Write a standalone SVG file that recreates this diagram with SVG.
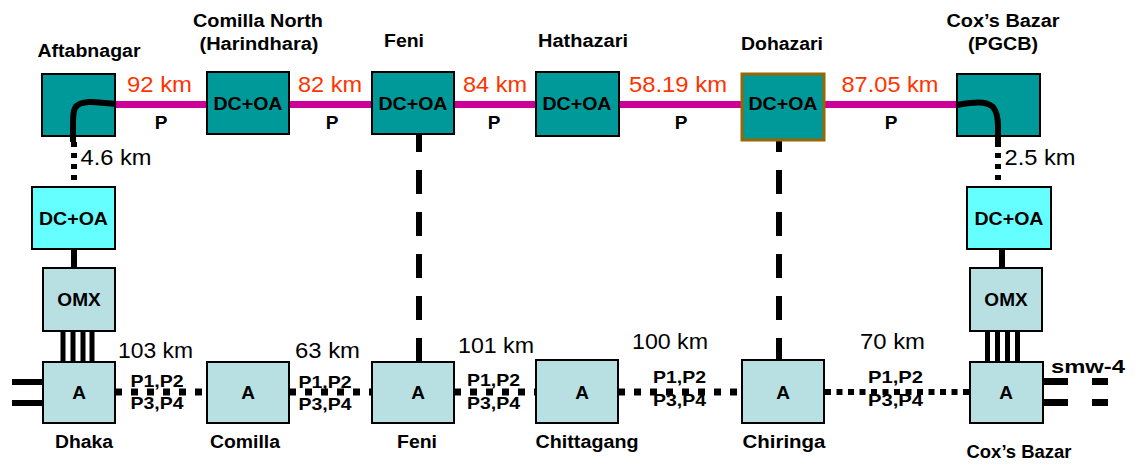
<svg xmlns="http://www.w3.org/2000/svg" width="1143" height="464" viewBox="0 0 1143 464">
<style>
text{font-family:"Liberation Sans",Arial,sans-serif;text-anchor:middle}
.b{font-weight:bold;font-size:18px;fill:#000}
.bx{font-weight:bold;font-size:19px;fill:#000}
.pp{font-weight:bold;font-size:17px;fill:#000}
.d{font-size:22px;fill:#FF3300}
.k{font-size:22px;fill:#000}
.teal{fill:#009999;stroke:#000;stroke-width:2}
.cyan{fill:#66FFFF;stroke:#000;stroke-width:2}
.lb{fill:#B8DFE2;stroke:#000;stroke-width:2}
.mag{stroke:#CC0099;stroke-width:7;fill:none}
.thick{stroke:#000;stroke-width:6;fill:none}
.dot{stroke:#000;stroke-width:7;fill:none;stroke-dasharray:7 9}
.vdot{stroke:#000;stroke-width:6;fill:none;stroke-dasharray:5 6}
.dash{stroke:#000;stroke-width:6;fill:none;stroke-dasharray:24 18}
</style>
<g id="connectors">
<line class="mag" x1="115" y1="104.5" x2="207" y2="104.5"/>
<line class="mag" x1="289" y1="104.5" x2="372" y2="104.5"/>
<line class="mag" x1="454" y1="104.5" x2="536" y2="104.5"/>
<line class="mag" x1="619" y1="104.5" x2="742" y2="104.5"/>
<line class="mag" x1="824" y1="104.5" x2="957" y2="104.5"/>
<line class="vdot" x1="74" y1="142" x2="74" y2="187"/>
<line class="vdot" x1="998" y1="142" x2="998" y2="187"/>
<line class="thick" x1="74" y1="249" x2="74" y2="268"/>
<line class="thick" x1="1002" y1="249" x2="1002" y2="268"/>
<g stroke="#000" stroke-width="5">
<line x1="63" y1="331" x2="63" y2="362"/><line x1="73" y1="331" x2="73" y2="362"/><line x1="83" y1="331" x2="83" y2="362"/><line x1="92" y1="331" x2="92" y2="362"/>
<line x1="987.5" y1="331" x2="987.5" y2="362"/><line x1="997.5" y1="331" x2="997.5" y2="362"/><line x1="1007.5" y1="331" x2="1007.5" y2="362"/><line x1="1017.5" y1="331" x2="1017.5" y2="362"/>
</g>
<line class="dash" x1="419" y1="128" x2="419" y2="362"/>
<line class="dash" x1="779" y1="128" x2="779" y2="362"/>
<line class="dot" x1="115" y1="392" x2="207" y2="392"/>
<line class="dot" x1="289" y1="392" x2="372" y2="392"/>
<line class="dot" x1="454" y1="392" x2="536" y2="392"/>
<line class="dot" x1="618" y1="392" x2="742" y2="392"/>
<line stroke="#000" stroke-width="6" stroke-dasharray="6 5.5" x1="825" y1="392" x2="970" y2="392"/>
<line class="thick" x1="12" y1="382" x2="43" y2="382"/>
<line class="thick" x1="12" y1="403" x2="43" y2="403"/>
<line stroke="#000" stroke-width="7" x1="1043" y1="381.5" x2="1068" y2="381.5"/>
<line stroke="#000" stroke-width="7" x1="1043" y1="402.5" x2="1068" y2="402.5"/>
<line stroke="#000" stroke-width="7" x1="1092" y1="381.5" x2="1108" y2="381.5"/>
<line stroke="#000" stroke-width="7" x1="1092" y1="402.5" x2="1108" y2="402.5"/>
</g>
<g id="aftabnagar">
<rect class="teal" x="42" y="74" width="73" height="62"/>
<path class="thick" stroke-width="7" d="M115,104 C98,102 80,99 75,108 C73,112 73,118 73,124 L73,142"/>
<text class="b" x="89" y="57" textLength="103" lengthAdjust="spacingAndGlyphs">Aftabnagar</text>
</g>
<g id="comilla-north">
<rect class="teal" x="207" y="72" width="82" height="62"/>
<text class="bx" x="248" y="110" textLength="69" lengthAdjust="spacingAndGlyphs">DC+OA</text>
<text class="b" x="258" y="27" textLength="130" lengthAdjust="spacingAndGlyphs">Comilla North</text>
<text class="b" x="259" y="50" textLength="119" lengthAdjust="spacingAndGlyphs">(Harindhara)</text>
</g>
<g id="feni-top">
<rect class="teal" x="372" y="72" width="82" height="62"/>
<text class="bx" x="413" y="110" textLength="69" lengthAdjust="spacingAndGlyphs">DC+OA</text>
<text class="b" x="404" y="47" textLength="40" lengthAdjust="spacingAndGlyphs">Feni</text>
</g>
<g id="hathazari">
<rect class="teal" x="536" y="72" width="83" height="64"/>
<text class="bx" x="577" y="110" textLength="69" lengthAdjust="spacingAndGlyphs">DC+OA</text>
<text class="b" x="583" y="47" textLength="90" lengthAdjust="spacingAndGlyphs">Hathazari</text>
</g>
<g id="dohazari">
<rect x="742" y="74" width="82" height="66" fill="#009999" stroke="#996600" stroke-width="3"/>
<text class="bx" x="783" y="110" textLength="69" lengthAdjust="spacingAndGlyphs">DC+OA</text>
<text class="b" x="782" y="50" textLength="82" lengthAdjust="spacingAndGlyphs">Dohazari</text>
</g>
<g id="coxs-bazar-pgcb">
<rect class="teal" x="957" y="74" width="83" height="62"/>
<path class="thick" stroke-width="7" d="M957,105 C970,103 985,100 993,107 C997,112 998,118 998,126 L998,142"/>
<text class="b" x="1003" y="27" textLength="113" lengthAdjust="spacingAndGlyphs">Cox’s Bazar</text>
<text class="b" x="1003" y="50" textLength="70" lengthAdjust="spacingAndGlyphs">(PGCB)</text>
</g>
<g id="top-labels">
<text class="d" x="159.5" y="92" textLength="65" lengthAdjust="spacingAndGlyphs">92 km</text>
<text class="d" x="330" y="92" textLength="64" lengthAdjust="spacingAndGlyphs">82 km</text>
<text class="d" x="495" y="92" textLength="64" lengthAdjust="spacingAndGlyphs">84 km</text>
<text class="d" x="678" y="92" textLength="98" lengthAdjust="spacingAndGlyphs">58.19 km</text>
<text class="d" x="890" y="92" textLength="97" lengthAdjust="spacingAndGlyphs">87.05 km</text>
<text class="bx" x="161" y="129">P</text>
<text class="bx" x="332" y="129">P</text>
<text class="bx" x="494" y="129">P</text>
<text class="bx" x="681" y="129">P</text>
<text class="bx" x="891" y="129">P</text>
<text class="k" x="116" y="165" textLength="71" lengthAdjust="spacingAndGlyphs">4.6 km</text>
<text class="k" x="1040" y="165" textLength="71" lengthAdjust="spacingAndGlyphs">2.5 km</text>
</g>
<g id="dcoa-left">
<rect class="cyan" x="32" y="187" width="83" height="62"/>
<text class="bx" x="73.5" y="225" textLength="69" lengthAdjust="spacingAndGlyphs">DC+OA</text>
</g>
<g id="omx-left">
<rect class="lb" x="43" y="268" width="72" height="63"/>
<text class="bx" x="79" y="306">OMX</text>
</g>
<g id="dcoa-right">
<rect class="cyan" x="967" y="187" width="84" height="62"/>
<text class="bx" x="1009" y="225" textLength="69" lengthAdjust="spacingAndGlyphs">DC+OA</text>
</g>
<g id="omx-right">
<rect class="lb" x="970" y="268" width="72" height="63"/>
<text class="bx" x="1006" y="306">OMX</text>
</g>
<g id="dhaka">
<rect class="lb" x="43" y="362" width="72" height="61"/>
<text class="bx" x="79" y="399">A</text>
<text class="b" x="84" y="448" textLength="58" lengthAdjust="spacingAndGlyphs">Dhaka</text>
</g>
<g id="comilla">
<rect class="lb" x="207" y="362" width="82" height="61"/>
<text class="bx" x="248" y="399">A</text>
<text class="b" x="245" y="448" textLength="70" lengthAdjust="spacingAndGlyphs">Comilla</text>
</g>
<g id="feni">
<rect class="lb" x="372" y="362" width="82" height="61"/>
<text class="bx" x="418" y="399">A</text>
<text class="b" x="417" y="448" textLength="40" lengthAdjust="spacingAndGlyphs">Feni</text>
</g>
<g id="chittagang">
<rect class="lb" x="536" y="360" width="82" height="63"/>
<text class="bx" x="582" y="399">A</text>
<text class="b" x="587" y="448" textLength="103" lengthAdjust="spacingAndGlyphs">Chittagang</text>
</g>
<g id="chiringa">
<rect class="lb" x="742" y="360" width="82" height="63"/>
<text class="bx" x="783" y="399">A</text>
<text class="b" x="784" y="448" textLength="83" lengthAdjust="spacingAndGlyphs">Chiringa</text>
</g>
<g id="coxs-bazar">
<rect class="lb" x="970" y="362" width="73" height="61"/>
<text class="bx" x="1006" y="399">A</text>
<text class="b" x="1019" y="458" textLength="105" lengthAdjust="spacingAndGlyphs">Cox’s Bazar</text>
<text class="bx" x="1088" y="373" font-size="21" textLength="74" lengthAdjust="spacingAndGlyphs">smw-4</text>
</g>
<g id="bottom-labels">
<text class="k" x="155.5" y="358" textLength="75" lengthAdjust="spacingAndGlyphs">103 km</text>
<text class="k" x="327.5" y="358" textLength="65" lengthAdjust="spacingAndGlyphs">63 km</text>
<text class="k" x="496" y="353" textLength="76" lengthAdjust="spacingAndGlyphs">101 km</text>
<text class="k" x="670" y="349" textLength="76" lengthAdjust="spacingAndGlyphs">100 km</text>
<text class="k" x="892.5" y="349" textLength="65" lengthAdjust="spacingAndGlyphs">70 km</text>
<text class="pp" x="157" y="387" textLength="53" lengthAdjust="spacingAndGlyphs">P1,P2</text>
<text class="pp" x="157" y="409" textLength="53" lengthAdjust="spacingAndGlyphs">P3,P4</text>
<text class="pp" x="325" y="388" textLength="53" lengthAdjust="spacingAndGlyphs">P1,P2</text>
<text class="pp" x="325" y="410" textLength="53" lengthAdjust="spacingAndGlyphs">P3,P4</text>
<text class="pp" x="493.5" y="386" textLength="53" lengthAdjust="spacingAndGlyphs">P1,P2</text>
<text class="pp" x="493.5" y="409" textLength="53" lengthAdjust="spacingAndGlyphs">P3,P4</text>
<text class="pp" x="679.5" y="383" textLength="53" lengthAdjust="spacingAndGlyphs">P1,P2</text>
<text class="pp" x="679.5" y="406" textLength="53" lengthAdjust="spacingAndGlyphs">P3,P4</text>
<text class="pp" x="895.5" y="383" textLength="55" lengthAdjust="spacingAndGlyphs">P1,P2</text>
<text class="pp" x="895.5" y="406" textLength="55" lengthAdjust="spacingAndGlyphs">P3,P4</text>
</g>
</svg>
